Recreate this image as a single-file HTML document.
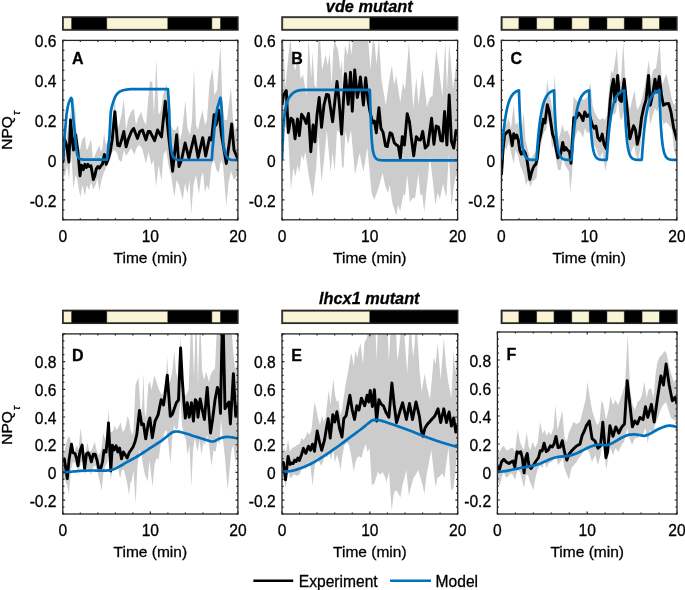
<!DOCTYPE html>
<html><head><meta charset="utf-8"><style>
html,body{margin:0;padding:0;background:#fff;}
svg{display:block;will-change:transform;}
text{font-family:"Liberation Sans", sans-serif;fill:#000;stroke:#000;stroke-width:0.3px;}
.tk{font-size:15.6px;fill:#000;}
.lb{font-size:15.5px;}
.sub{font-size:11.5px;font-style:italic;}
.pl{font-size:16px;font-weight:bold;}
.ti{font-size:16.3px;font-weight:bold;font-style:italic;}
.lg{font-size:15.6px;}
</style></head><body>
<svg width="685" height="590" viewBox="0 0 685 590">
<rect x="62.8" y="17" width="175.1" height="13" fill="#000" stroke="#262626" stroke-width="1.5"/>
<rect x="63.7" y="17.9" width="7.76" height="11.2" fill="#faf4d6" stroke="#4a4a40" stroke-width="0.5"/>
<rect x="106.88" y="17.9" width="60.89" height="11.2" fill="#faf4d6" stroke="#4a4a40" stroke-width="0.5"/>
<rect x="211.94" y="17.9" width="8.35" height="11.2" fill="#faf4d6" stroke="#4a4a40" stroke-width="0.5"/>
<clipPath id="cA"><rect x="62.8" y="40.4" width="175.1" height="179.4"/></clipPath>
<g clip-path="url(#cA)">
<polygon fill="#cccccc" stroke="none" points="62.8,140 64.5,128 66,140 68,130 70.5,112 73,125 75,101.8 76.5,135 78,145 80,150 82,140 84.9,136.2 86.5,150 88,148 91,139.2 93,160 95,155 97,150 99.4,145.3 101,152 102.5,148 104,133.1 106,145 108,140 110,135 112,120 114.9,100 117,130 119,125 121.5,115 123.8,98.7 126,130 128.5,118 131,112 133.7,108.6 136,125 138,118 141.3,111.7 143.5,120 146,125 148.2,99.5 150,81.2 152.3,82 154,115 156.4,59.1 158.5,115 161,110 163,95 166.8,84.3 169,115 171,125 173,130 175.5,130 178,125 180,140 182,132 185.4,100.3 187.5,128 190,135 192,120 194,69 196,125 198,130 200,120 202.5,110 205,125 207,120 209.5,82.7 212.6,69 214.5,95 217,90 220.5,45.3 222.5,105 224.5,120 227,120 230.9,87.3 233,120 235,130 237.9,125 237.9,175 234,180 231,171 228.5,183 226.3,206.3 223,165 221,160 218.7,172.7 216.5,170 214,160 211.5,165 209,190 207,185 205,192.6 203,172 201,178 198.9,194.1 196,175 193.5,185 191.2,214 189.5,180 187.4,194.1 185,183 182.8,200.2 179,185 176.5,180 174.4,197.2 171,175 168.5,165 166,150 163.5,155 161.5,180.4 158.5,165 156.1,186.5 153.5,160 151.5,165.1 148.5,152 145.9,163.6 142,148 139,145 136.5,148 134.4,154.4 131,148 128.5,152 126,156 124,150 121.5,162 119,160 117,152.9 114.5,150 112,152 110,160 108,162 106.2,168 104,172 101.5,180 99.4,191 97.5,178 95.5,185 93.3,189.5 91,182 89,190 87,185 84.9,195.6 82.5,185 80.3,197.1 77,178 75.5,175 73.4,189.5 71,150 69,180 67,165 65,175.8 62.8,175"/>
<polyline fill="none" stroke="#000" stroke-width="2.9" stroke-linejoin="round" points="62.8,163 64.3,138.4 66.6,145.3 68.9,162 70.5,120 72.5,142 73.5,150 75.7,134.6 78,152.9 80,175.8 81.5,165.1 83.4,169.7 84.9,164.3 86.4,167.4 87.9,164.3 89.5,166.6 91,165.8 93.3,179.6 94.8,175.8 96.3,168.9 97.8,166.6 99.4,168.1 100.9,165.8 102.4,164.3 104.4,154.4 106.2,164.3 107.75,160.5 110,152.9 112.3,139.2 114.9,111.7 117.7,145.3 119.6,146 121.8,139.2 123.8,131.5 126.1,146.8 128.3,139.2 131.4,131.5 133.7,128.5 137.5,138.4 139.8,131.5 142.5,130 145.9,139.9 148.2,131.5 150,131.5 154.6,140.7 157.6,130 161.5,136.9 165.3,101.1 168.5,135 172.6,171.2 176.7,134.6 179,166.6 181.5,160 185.1,143 188.9,158.2 194.3,136.1 198.1,157.5 202.7,137.6 205.7,156 209.5,137.6 211.5,140 214.1,114.8 216,125 218.7,110.2 221.5,135 224,150 226.3,163.6 229,145 231.7,124 234,150 237.9,159"/>
<polyline fill="none" stroke="#0072bd" stroke-width="2.7" stroke-linejoin="round" points="62.8,160 64.3,141 65.5,126 66.6,114 67.8,106.5 68.9,102.5 70,100 71.15,97.95 72,99.5 72.7,110 73.5,121 74.7,130.8 75.5,140 76.3,149 77.3,154.6 78.5,157.8 80.3,159.2 83,159.6 90,159.7 107,159.7 107.75,152.9 108.5,146 109.3,139.2 110,126 110.8,111.7 112,106 113.1,102.5 114.3,99 115.4,96.4 116.8,94.3 118.4,92.6 120.5,91.2 123,90.3 126.5,89.6 130.6,89.2 140,89.2 168,89.2 168.6,100 169.1,108.7 169.5,120 169.9,132 170.6,145.3 171.3,150.5 172.1,154.4 173.2,156.8 174.4,158.2 176,159.2 177.5,159.8 190,160 211.8,160 212.6,148.3 213.2,142 213.8,136.1 214.5,128 215.5,120 216.4,113 217.2,108.7 218.5,104 219.6,100 220.5,97.7 221.2,103 221.7,110 222.2,120 222.8,130 223.3,143.7 224.3,150 225.6,154.4 227,157.2 228.6,159 231,159.8 237.9,160.2"/>
</g>
<rect x="62.8" y="40.4" width="175.1" height="179.4" fill="none" stroke="#262626" stroke-width="1.3"/>
<path d="M62.8,219.8v-2.4M62.8,40.4v2.4M80.31,219.8v-1.6M80.31,40.4v1.6M97.82,219.8v-1.6M97.82,40.4v1.6M115.33,219.8v-1.6M115.33,40.4v1.6M132.84,219.8v-1.6M132.84,40.4v1.6M150.35,219.8v-2.4M150.35,40.4v2.4M167.86,219.8v-1.6M167.86,40.4v1.6M185.37,219.8v-1.6M185.37,40.4v1.6M202.88,219.8v-1.6M202.88,40.4v1.6M220.39,219.8v-1.6M220.39,40.4v1.6M237.9,219.8v-2.4M237.9,40.4v2.4M62.8,219.8h1.6M237.9,219.8h-1.6M62.8,209.83h1.6M237.9,209.83h-1.6M62.8,199.87h2.4M237.9,199.87h-2.4M62.8,189.9h1.6M237.9,189.9h-1.6M62.8,179.93h1.6M237.9,179.93h-1.6M62.8,169.97h1.6M237.9,169.97h-1.6M62.8,160h2.4M237.9,160h-2.4M62.8,150.03h1.6M237.9,150.03h-1.6M62.8,140.07h1.6M237.9,140.07h-1.6M62.8,130.1h1.6M237.9,130.1h-1.6M62.8,120.13h2.4M237.9,120.13h-2.4M62.8,110.17h1.6M237.9,110.17h-1.6M62.8,100.2h1.6M237.9,100.2h-1.6M62.8,90.23h1.6M237.9,90.23h-1.6M62.8,80.27h2.4M237.9,80.27h-2.4M62.8,70.3h1.6M237.9,70.3h-1.6M62.8,60.33h1.6M237.9,60.33h-1.6M62.8,50.37h1.6M237.9,50.37h-1.6M62.8,40.4h2.4M237.9,40.4h-2.4" stroke="#262626" stroke-width="1.2" fill="none"/>
<text x="56.5" y="206.57" text-anchor="end" class="tk">-0.2</text>
<text x="56.5" y="166.7" text-anchor="end" class="tk">0</text>
<text x="56.5" y="126.83" text-anchor="end" class="tk">0.2</text>
<text x="56.5" y="86.97" text-anchor="end" class="tk">0.4</text>
<text x="56.5" y="47.1" text-anchor="end" class="tk">0.6</text>
<text x="62.8" y="241.7" text-anchor="middle" class="tk">0</text>
<text x="150.35" y="241.7" text-anchor="middle" class="tk">10</text>
<text x="237.9" y="241.7" text-anchor="middle" class="tk">20</text>
<text x="150.35" y="262.6" text-anchor="middle" class="lb">Time (min)</text>
<text x="72" y="63.8" class="pl">A</text>
<rect x="282" y="17" width="175.6" height="13" fill="#000" stroke="#262626" stroke-width="1.5"/>
<rect x="282.9" y="17.9" width="86.8" height="11.2" fill="#faf4d6" stroke="#4a4a40" stroke-width="0.5"/>
<clipPath id="cB"><rect x="282" y="40.4" width="175.6" height="179.4"/></clipPath>
<g clip-path="url(#cB)">
<polygon fill="#cccccc" stroke="none" points="282,45 283.3,38 284.2,60 285.2,87.4 287.5,65 289.5,45 290.4,38 291.5,50 293,62 295.2,70.8 297,62 298.5,54.2 300.6,79.1 303,74.4 306.5,95.8 308.5,38 311.2,78 312.5,52 314.5,85 316.5,88 318.5,38 320,38 322.1,70.5 325.7,54.2 327.7,65.4 329.7,53.2 331.6,84.8 333.3,50 334.8,38 336,45 338,50 340.4,70.5 342,60 343,95 344,60 345,45 347.6,55.3 349.5,38 351.4,55.3 353,38 368,38 370.5,69.7 373,38 374.8,46.1 376.6,64.4 378.9,38 381.5,80 385.8,105.6 388.5,85 391.9,65.2 394,85 396.2,75.9 400.3,102.6 402.9,82.7 405,90 409,42.3 413.3,108.7 416.3,77.4 418.5,105 422.4,69 427,107.2 430.1,97.3 432.5,96 436.2,49.2 438.5,65 442.3,96.5 445.3,42.3 447,90 449.2,43 453,88.9 455.5,70 457.6,50 457.6,180 456,175 454,185 451.5,207.1 448.9,154 446.3,198 443,183.8 439.8,199.4 437.8,193 435.2,204.5 432.5,178 430,156.5 427,185 424.2,212.3 422.2,194.2 420.3,195 418.4,173.4 415.1,198 412.5,198 409.9,202.6 407.3,174.7 405,196 403.4,194.2 400.2,211 398,205 396.3,215.6 392.4,203.2 389.8,185 387.8,192.9 385,185 382.6,172.7 378,190 374.2,200 371.6,192.9 369,165 367.3,147.6 363.4,172 359.6,152.9 355,174.3 351,130 348,145 345.5,130 343.6,167.4 342.1,167.4 340,133 337,130 334.7,171.2 332.5,152 330.6,172.7 326.8,130 324,160 321.5,181.9 318.4,134.6 316.1,168.2 312.8,197.2 308.5,174.3 305.4,151.4 303.5,160 301.6,154.4 299.3,172.7 297.5,165 295.5,176.6 293.2,168.2 290.9,189.5 287.9,130 286,128 284,125 282,150"/>
<polyline fill="none" stroke="#000" stroke-width="2.9" stroke-linejoin="round" points="282,105 283.5,95 286.3,90.6 288.3,132.6 290.9,118.1 293,120 295,138.7 297.5,118.9 299.3,135.6 301.6,114.3 304,118 306.2,123.4 308.5,113.5 310.8,151.7 313.1,125 314.9,141.8 317,115 319.2,97.5 321.5,127.3 324,105 326.5,94.4 328.5,95 330.5,108 332.6,121.9 335,100 337,81.5 339,100 341.6,134.1 343.5,100 345.4,73.8 348.2,104.4 350.5,72.3 352.3,111.2 354.7,70 357.3,97.5 358.8,90 360.4,76.9 363.4,105.1 365.7,77.6 368,100 370,112 372.8,122.9 374.5,121 376.3,132.8 378.9,107.6 380.9,128.2 383,132.1 385.5,145.8 387.3,146.6 390.1,132.8 392,134 394.2,142.7 396.5,145 398.3,146 400.3,158 402.3,136.6 404.4,145 407.2,113.7 409.5,122 411,135 413.7,155.7 416.3,136.6 418.6,139.7 420.5,140 422.7,131.3 425.2,148.1 428,145 431.6,118.3 433.9,144.3 436.2,126 438.5,127 440.8,140.5 442.5,141 444.6,111.5 446.9,145 449.2,95 451.4,141.2 453.7,148.1 456,130.5 457.6,135"/>
<polyline fill="none" stroke="#0072bd" stroke-width="2.7" stroke-linejoin="round" points="282,160 282.6,145 283.3,128 284,119 284.8,112.7 286,106.5 287.1,102 288.5,98.5 290.2,96 291.7,94.3 293.2,92.9 295.5,91.5 297.8,90.6 300.5,90.1 303.9,89.8 369.8,89.8 370.3,105 370.8,120 371.3,133 372,143 372.8,150.4 373.8,154.5 375.1,157.3 376.5,158.8 378.2,159.8 381,160.2 384.3,160.3 457.6,160.3"/>
</g>
<rect x="282" y="40.4" width="175.6" height="179.4" fill="none" stroke="#262626" stroke-width="1.3"/>
<path d="M282,219.8v-2.4M282,40.4v2.4M299.56,219.8v-1.6M299.56,40.4v1.6M317.12,219.8v-1.6M317.12,40.4v1.6M334.68,219.8v-1.6M334.68,40.4v1.6M352.24,219.8v-1.6M352.24,40.4v1.6M369.8,219.8v-2.4M369.8,40.4v2.4M387.36,219.8v-1.6M387.36,40.4v1.6M404.92,219.8v-1.6M404.92,40.4v1.6M422.48,219.8v-1.6M422.48,40.4v1.6M440.04,219.8v-1.6M440.04,40.4v1.6M457.6,219.8v-2.4M457.6,40.4v2.4M282,219.8h1.6M457.6,219.8h-1.6M282,209.83h1.6M457.6,209.83h-1.6M282,199.87h2.4M457.6,199.87h-2.4M282,189.9h1.6M457.6,189.9h-1.6M282,179.93h1.6M457.6,179.93h-1.6M282,169.97h1.6M457.6,169.97h-1.6M282,160h2.4M457.6,160h-2.4M282,150.03h1.6M457.6,150.03h-1.6M282,140.07h1.6M457.6,140.07h-1.6M282,130.1h1.6M457.6,130.1h-1.6M282,120.13h2.4M457.6,120.13h-2.4M282,110.17h1.6M457.6,110.17h-1.6M282,100.2h1.6M457.6,100.2h-1.6M282,90.23h1.6M457.6,90.23h-1.6M282,80.27h2.4M457.6,80.27h-2.4M282,70.3h1.6M457.6,70.3h-1.6M282,60.33h1.6M457.6,60.33h-1.6M282,50.37h1.6M457.6,50.37h-1.6M282,40.4h2.4M457.6,40.4h-2.4" stroke="#262626" stroke-width="1.2" fill="none"/>
<text x="275.7" y="206.57" text-anchor="end" class="tk">-0.2</text>
<text x="275.7" y="166.7" text-anchor="end" class="tk">0</text>
<text x="275.7" y="126.83" text-anchor="end" class="tk">0.2</text>
<text x="275.7" y="86.97" text-anchor="end" class="tk">0.4</text>
<text x="275.7" y="47.1" text-anchor="end" class="tk">0.6</text>
<text x="282" y="241.7" text-anchor="middle" class="tk">0</text>
<text x="369.8" y="241.7" text-anchor="middle" class="tk">10</text>
<text x="457.6" y="241.7" text-anchor="middle" class="tk">20</text>
<text x="369.8" y="262.6" text-anchor="middle" class="lb">Time (min)</text>
<text x="291.2" y="63.8" class="pl">B</text>
<rect x="501.4" y="17" width="175.5" height="13" fill="#000" stroke="#262626" stroke-width="1.5"/>
<rect x="502.3" y="17.9" width="16.55" height="11.2" fill="#faf4d6" stroke="#4a4a40" stroke-width="0.5"/>
<rect x="536.8" y="17.9" width="17.15" height="11.2" fill="#faf4d6" stroke="#4a4a40" stroke-width="0.5"/>
<rect x="571.9" y="17.9" width="17.15" height="11.2" fill="#faf4d6" stroke="#4a4a40" stroke-width="0.5"/>
<rect x="607" y="17.9" width="17.15" height="11.2" fill="#faf4d6" stroke="#4a4a40" stroke-width="0.5"/>
<rect x="642.1" y="17.9" width="17.15" height="11.2" fill="#faf4d6" stroke="#4a4a40" stroke-width="0.5"/>
<clipPath id="cC"><rect x="501.4" y="40.4" width="175.5" height="179.4"/></clipPath>
<g clip-path="url(#cC)">
<polygon fill="#cccccc" stroke="none" points="501.4,150 503,130 504.6,118.3 506.5,125 508.5,118 511,128 513.7,104.6 515.5,125 518,122 521,135 523.7,112.2 525.5,140 528,150 530.5,160 533,155 535.5,152 537.5,138 539.5,124 541.5,118 543.5,105 545.8,95 547.3,79.7 549.2,95 551,100 552.5,112 554.9,73.6 556.5,120 558,140 560,135 562.4,124.5 564.5,132 567,130 569.5,135 571,140 573.6,96.6 576,100 578,102 581,98 584,100 587,97 590.4,82.6 592.5,105 594.5,112 597.8,118 600,120 602.5,118 605,120 607,115 609,90 611,70 613,73.6 615,62 616.8,47.5 619,85 621,80 623.3,41.9 626,95 628,100 630,110 632,100 634.5,90.3 637,110 640,105 642,98 645,85 648.8,60.5 651,80 653,70 656,68 659.7,41.9 662,85 664,80 666.2,73.6 669,85 672,100 674,105 676.9,100 676.9,160 674,150 672,130 669,125 666,122 663.5,125 661.5,118 659.3,105 657,112 655,108 652,118 650,125 648.5,105 646,118 644,125 642,130 640,150 638,160 636,155 634,145 632,150 630,155 628,135 626,118 624,110 622,120 620,118 618,100 616,112 614,115 612,110 610,130 607.5,160 605.3,171.2 602.5,152 600,158 598,155 596,148 594,145 592,140 589.5,132 587,133 585,128 583,138 581,133 578,130 576,135 574,140 572,175 570.2,192.6 569,172 567,168 565,165 563,158 560.5,170 558,170 556,160 554,145 552,148 550,128 548,120 546,130 544,132 542,140 540,150 538,165 536.5,178 534.5,180 532.5,181 530.5,187 528,180 526,185.5 524,175 522,170 520,165 518,155 515.5,150 513.7,164.1 511,152 508.5,142 506.5,150 504.6,145.8 503,175 501.4,195"/>
<polyline fill="none" stroke="#000" stroke-width="2.9" stroke-linejoin="round" points="501.4,175 503,150 504.6,135.1 506.9,132.1 509.2,130.5 510.8,137 512.2,145.8 513.7,133.6 515.3,138 516.8,135.1 518.3,140 519.8,150.4 521.4,154.2 523.7,150.4 525.2,153 526.7,158 528.2,168 529.8,179.4 531.3,173.3 532.8,168.7 534.4,165.6 535.9,164.1 537.4,158 538.9,142.7 541.2,132.1 543.5,119.1 545,122.9 547.3,104.6 549.2,111.5 550.8,122 552.5,134 554.5,140 556.3,150 558,157.9 560.6,154.3 562.7,142.4 564.4,150.4 565.8,147.5 567.5,150 569.5,151.8 571,163.2 573.8,117.6 576.3,118 578.7,113 581.1,116.1 583,120.6 584.8,111.9 587,116.5 589.3,114.3 592.2,124.5 594.1,128.2 596,126 597.8,137.5 600,140.7 602.2,134.1 604.1,144.4 606.2,148.7 608.3,125 610.3,99.7 611.8,87.2 613.4,79.2 614.9,101.5 617.7,75.4 619.6,99.7 621.4,101.5 624.2,79.2 626.2,100 628,118.3 629.8,138.8 631.7,132 633.6,125.8 635.5,130 637.3,144.4 639.5,135 641.5,118 643.8,107.1 646,100 648.5,75.4 650.3,105.2 652.5,95 655,79.2 657,92 659.3,76.4 661.5,95 663.4,105.2 665.5,104 668.6,103.4 671,112 673.6,127.6 676.9,140"/>
<polyline fill="none" stroke="#0072bd" stroke-width="2.7" stroke-linejoin="round" points="501.4,160 501.49,158.59 501.58,157.22 501.66,155.87 501.75,154.54 501.84,153.25 501.93,151.98 502.01,150.73 502.1,149.51 502.19,148.31 502.28,147.14 502.37,145.99 502.45,144.86 502.54,143.75 502.63,142.67 502.72,141.61 502.8,140.57 502.89,139.55 502.98,138.55 503.07,137.57 503.15,136.61 503.24,135.66 503.33,134.74 503.42,133.83 503.51,132.95 503.59,132.08 503.68,131.23 503.77,130.39 503.86,129.57 503.94,128.77 504.03,127.98 504.12,127.21 504.21,126.46 504.3,125.71 504.38,124.99 504.47,124.28 504.56,123.58 504.65,122.89 504.73,122.22 504.82,121.57 504.91,120.92 505,120.29 505.09,119.67 505.26,118.47 505.44,117.32 505.61,116.21 505.79,115.14 505.96,114.12 506.14,113.14 506.31,112.19 506.49,111.28 506.66,110.41 506.84,109.57 507.02,108.77 507.19,107.99 507.37,107.25 507.54,106.54 507.72,105.85 507.89,105.19 508.07,104.56 508.24,103.95 508.42,103.36 508.6,102.8 508.77,102.26 509.03,101.49 509.3,100.77 509.56,100.08 509.82,99.44 510.09,98.84 510.35,98.26 510.61,97.73 510.88,97.22 511.14,96.74 511.4,96.3 511.75,95.74 512.11,95.22 512.46,94.75 512.81,94.31 513.16,93.9 513.51,93.53 513.95,93.1 514.39,92.71 514.83,92.36 515.26,92.05 515.7,91.76 516.23,91.45 516.76,91.18 517.28,90.94 517.81,90.72 518.34,90.53 518.95,90.34 519.04,93.12 519.13,95.8 519.21,98.37 519.3,100.83 519.39,103.2 519.48,105.47 519.56,107.65 519.65,109.74 519.74,111.75 519.83,113.68 519.92,115.54 520,117.31 520.09,119.02 520.18,120.66 520.27,122.23 520.35,123.74 520.44,125.19 520.53,126.59 520.62,127.92 520.7,129.21 520.79,130.44 520.88,131.62 520.97,132.75 521.06,133.84 521.14,134.89 521.23,135.89 521.32,136.86 521.41,137.78 521.49,138.67 521.58,139.53 521.67,140.34 521.76,141.13 521.85,141.89 521.93,142.61 522.02,143.31 522.11,143.97 522.2,144.61 522.28,145.23 522.46,146.39 522.64,147.45 522.81,148.44 522.99,149.34 523.16,150.18 523.34,150.95 523.51,151.66 523.69,152.31 523.86,152.92 524.04,153.47 524.3,154.22 524.57,154.89 524.83,155.48 525.09,156 525.36,156.46 525.71,156.99 526.06,157.45 526.41,157.83 526.85,158.23 527.29,158.56 527.73,158.82 528.25,159.08 528.78,159.28 529.39,159.46 530.01,159.59 530.62,159.69 531.32,159.78 532.02,159.84 532.73,159.89 533.43,159.92 534.13,159.94 534.83,159.96 535.53,159.97 536.24,159.98 536.59,158.59 536.68,157.22 536.76,155.87 536.85,154.54 536.94,153.25 537.03,151.98 537.11,150.73 537.2,149.51 537.29,148.31 537.38,147.14 537.47,145.99 537.55,144.86 537.64,143.75 537.73,142.67 537.82,141.61 537.9,140.57 537.99,139.55 538.08,138.55 538.17,137.57 538.25,136.61 538.34,135.66 538.43,134.74 538.52,133.83 538.61,132.95 538.69,132.08 538.78,131.23 538.87,130.39 538.96,129.57 539.04,128.77 539.13,127.98 539.22,127.21 539.31,126.46 539.4,125.71 539.48,124.99 539.57,124.28 539.66,123.58 539.75,122.89 539.83,122.22 539.92,121.57 540.01,120.92 540.1,120.29 540.19,119.67 540.36,118.47 540.54,117.32 540.71,116.21 540.89,115.14 541.06,114.12 541.24,113.14 541.41,112.19 541.59,111.28 541.76,110.41 541.94,109.57 542.12,108.77 542.29,107.99 542.47,107.25 542.64,106.54 542.82,105.85 542.99,105.19 543.17,104.56 543.34,103.95 543.52,103.36 543.7,102.8 543.87,102.26 544.13,101.49 544.4,100.77 544.66,100.08 544.92,99.44 545.19,98.84 545.45,98.26 545.71,97.73 545.98,97.22 546.24,96.74 546.5,96.3 546.85,95.74 547.21,95.22 547.56,94.75 547.91,94.31 548.26,93.9 548.61,93.53 549.05,93.1 549.49,92.71 549.93,92.36 550.36,92.05 550.8,91.76 551.33,91.45 551.86,91.18 552.38,90.94 552.91,90.72 553.44,90.53 554.05,90.34 554.14,93.12 554.23,95.8 554.31,98.37 554.4,100.83 554.49,103.2 554.58,105.47 554.66,107.65 554.75,109.74 554.84,111.75 554.93,113.68 555.02,115.54 555.1,117.31 555.19,119.02 555.28,120.66 555.37,122.23 555.45,123.74 555.54,125.19 555.63,126.59 555.72,127.92 555.8,129.21 555.89,130.44 555.98,131.62 556.07,132.75 556.16,133.84 556.24,134.89 556.33,135.89 556.42,136.86 556.51,137.78 556.59,138.67 556.68,139.53 556.77,140.34 556.86,141.13 556.95,141.89 557.03,142.61 557.12,143.31 557.21,143.97 557.3,144.61 557.38,145.23 557.56,146.39 557.74,147.45 557.91,148.44 558.09,149.34 558.26,150.18 558.44,150.95 558.61,151.66 558.79,152.31 558.96,152.92 559.14,153.47 559.4,154.22 559.67,154.89 559.93,155.48 560.19,156 560.46,156.46 560.81,156.99 561.16,157.45 561.51,157.83 561.95,158.23 562.39,158.56 562.82,158.82 563.35,159.08 563.88,159.28 564.49,159.46 565.11,159.59 565.72,159.69 566.42,159.78 567.12,159.84 567.83,159.89 568.53,159.92 569.23,159.94 569.93,159.96 570.63,159.97 571.34,159.98 571.69,158.59 571.78,157.22 571.86,155.87 571.95,154.54 572.04,153.25 572.13,151.98 572.21,150.73 572.3,149.51 572.39,148.31 572.48,147.14 572.57,145.99 572.65,144.86 572.74,143.75 572.83,142.67 572.92,141.61 573,140.57 573.09,139.55 573.18,138.55 573.27,137.57 573.36,136.61 573.44,135.66 573.53,134.74 573.62,133.83 573.71,132.95 573.79,132.08 573.88,131.23 573.97,130.39 574.06,129.57 574.14,128.77 574.23,127.98 574.32,127.21 574.41,126.46 574.5,125.71 574.58,124.99 574.67,124.28 574.76,123.58 574.85,122.89 574.93,122.22 575.02,121.57 575.11,120.92 575.2,120.29 575.29,119.67 575.46,118.47 575.64,117.32 575.81,116.21 575.99,115.14 576.16,114.12 576.34,113.14 576.51,112.19 576.69,111.28 576.87,110.41 577.04,109.57 577.22,108.77 577.39,107.99 577.57,107.25 577.74,106.54 577.92,105.85 578.09,105.19 578.27,104.56 578.44,103.95 578.62,103.36 578.8,102.8 578.97,102.26 579.23,101.49 579.5,100.77 579.76,100.08 580.02,99.44 580.29,98.84 580.55,98.26 580.81,97.73 581.08,97.22 581.34,96.74 581.6,96.3 581.95,95.74 582.31,95.22 582.66,94.75 583.01,94.31 583.36,93.9 583.71,93.53 584.15,93.1 584.59,92.71 585.03,92.36 585.46,92.05 585.9,91.76 586.43,91.45 586.96,91.18 587.48,90.94 588.01,90.72 588.54,90.53 589.15,90.34 589.24,93.12 589.33,95.8 589.41,98.37 589.5,100.83 589.59,103.2 589.68,105.47 589.76,107.65 589.85,109.74 589.94,111.75 590.03,113.68 590.12,115.54 590.2,117.31 590.29,119.02 590.38,120.66 590.47,122.23 590.55,123.74 590.64,125.19 590.73,126.59 590.82,127.92 590.9,129.21 590.99,130.44 591.08,131.62 591.17,132.75 591.26,133.84 591.34,134.89 591.43,135.89 591.52,136.86 591.61,137.78 591.69,138.67 591.78,139.53 591.87,140.34 591.96,141.13 592.05,141.89 592.13,142.61 592.22,143.31 592.31,143.97 592.4,144.61 592.48,145.23 592.66,146.39 592.84,147.45 593.01,148.44 593.19,149.34 593.36,150.18 593.54,150.95 593.71,151.66 593.89,152.31 594.06,152.92 594.24,153.47 594.5,154.22 594.77,154.89 595.03,155.48 595.29,156 595.56,156.46 595.91,156.99 596.26,157.45 596.61,157.83 597.05,158.23 597.49,158.56 597.92,158.82 598.45,159.08 598.98,159.28 599.59,159.46 600.21,159.59 600.82,159.69 601.52,159.78 602.22,159.84 602.93,159.89 603.63,159.92 604.33,159.94 605.03,159.96 605.73,159.97 606.44,159.98 606.79,158.59 606.88,157.22 606.96,155.87 607.05,154.54 607.14,153.25 607.23,151.98 607.31,150.73 607.4,149.51 607.49,148.31 607.58,147.14 607.67,145.99 607.75,144.86 607.84,143.75 607.93,142.67 608.02,141.61 608.1,140.57 608.19,139.55 608.28,138.55 608.37,137.57 608.45,136.61 608.54,135.66 608.63,134.74 608.72,133.83 608.81,132.95 608.89,132.08 608.98,131.23 609.07,130.39 609.16,129.57 609.24,128.77 609.33,127.98 609.42,127.21 609.51,126.46 609.6,125.71 609.68,124.99 609.77,124.28 609.86,123.58 609.95,122.89 610.03,122.22 610.12,121.57 610.21,120.92 610.3,120.29 610.39,119.67 610.56,118.47 610.74,117.32 610.91,116.21 611.09,115.14 611.26,114.12 611.44,113.14 611.61,112.19 611.79,111.28 611.96,110.41 612.14,109.57 612.32,108.77 612.49,107.99 612.67,107.25 612.84,106.54 613.02,105.85 613.19,105.19 613.37,104.56 613.54,103.95 613.72,103.36 613.9,102.8 614.07,102.26 614.33,101.49 614.6,100.77 614.86,100.08 615.12,99.44 615.39,98.84 615.65,98.26 615.91,97.73 616.18,97.22 616.44,96.74 616.7,96.3 617.05,95.74 617.41,95.22 617.76,94.75 618.11,94.31 618.46,93.9 618.81,93.53 619.25,93.1 619.69,92.71 620.13,92.36 620.56,92.05 621,91.76 621.53,91.45 622.06,91.18 622.58,90.94 623.11,90.72 623.64,90.53 624.25,90.34 624.34,93.12 624.43,95.8 624.51,98.37 624.6,100.83 624.69,103.2 624.78,105.47 624.86,107.65 624.95,109.74 625.04,111.75 625.13,113.68 625.22,115.54 625.3,117.31 625.39,119.02 625.48,120.66 625.57,122.23 625.65,123.74 625.74,125.19 625.83,126.59 625.92,127.92 626,129.21 626.09,130.44 626.18,131.62 626.27,132.75 626.36,133.84 626.44,134.89 626.53,135.89 626.62,136.86 626.71,137.78 626.79,138.67 626.88,139.53 626.97,140.34 627.06,141.13 627.15,141.89 627.23,142.61 627.32,143.31 627.41,143.97 627.5,144.61 627.58,145.23 627.76,146.39 627.94,147.45 628.11,148.44 628.29,149.34 628.46,150.18 628.64,150.95 628.81,151.66 628.99,152.31 629.16,152.92 629.34,153.47 629.6,154.22 629.87,154.89 630.13,155.48 630.39,156 630.66,156.46 631.01,156.99 631.36,157.45 631.71,157.83 632.15,158.23 632.59,158.56 633.02,158.82 633.55,159.08 634.08,159.28 634.69,159.46 635.31,159.59 635.92,159.69 636.62,159.78 637.32,159.84 638.03,159.89 638.73,159.92 639.43,159.94 640.13,159.96 640.83,159.97 641.54,159.98 641.89,158.59 641.98,157.22 642.06,155.87 642.15,154.54 642.24,153.25 642.33,151.98 642.41,150.73 642.5,149.51 642.59,148.31 642.68,147.14 642.77,145.99 642.85,144.86 642.94,143.75 643.03,142.67 643.12,141.61 643.2,140.57 643.29,139.55 643.38,138.55 643.47,137.57 643.55,136.61 643.64,135.66 643.73,134.74 643.82,133.83 643.91,132.95 643.99,132.08 644.08,131.23 644.17,130.39 644.26,129.57 644.34,128.77 644.43,127.98 644.52,127.21 644.61,126.46 644.7,125.71 644.78,124.99 644.87,124.28 644.96,123.58 645.05,122.89 645.13,122.22 645.22,121.57 645.31,120.92 645.4,120.29 645.49,119.67 645.66,118.47 645.84,117.32 646.01,116.21 646.19,115.14 646.36,114.12 646.54,113.14 646.71,112.19 646.89,111.28 647.07,110.41 647.24,109.57 647.42,108.77 647.59,107.99 647.77,107.25 647.94,106.54 648.12,105.85 648.29,105.19 648.47,104.56 648.64,103.95 648.82,103.36 649,102.8 649.17,102.26 649.43,101.49 649.7,100.77 649.96,100.08 650.22,99.44 650.49,98.84 650.75,98.26 651.01,97.73 651.28,97.22 651.54,96.74 651.8,96.3 652.15,95.74 652.51,95.22 652.86,94.75 653.21,94.31 653.56,93.9 653.91,93.53 654.35,93.1 654.79,92.71 655.23,92.36 655.66,92.05 656.1,91.76 656.63,91.45 657.16,91.18 657.68,90.94 658.21,90.72 658.74,90.53 659.35,90.34 659.44,93.12 659.53,95.8 659.61,98.37 659.7,100.83 659.79,103.2 659.88,105.47 659.96,107.65 660.05,109.74 660.14,111.75 660.23,113.68 660.32,115.54 660.4,117.31 660.49,119.02 660.58,120.66 660.67,122.23 660.75,123.74 660.84,125.19 660.93,126.59 661.02,127.92 661.11,129.21 661.19,130.44 661.28,131.62 661.37,132.75 661.46,133.84 661.54,134.89 661.63,135.89 661.72,136.86 661.81,137.78 661.89,138.67 661.98,139.53 662.07,140.34 662.16,141.13 662.25,141.89 662.33,142.61 662.42,143.31 662.51,143.97 662.6,144.61 662.68,145.23 662.86,146.39 663.04,147.45 663.21,148.44 663.39,149.34 663.56,150.18 663.74,150.95 663.91,151.66 664.09,152.31 664.26,152.92 664.44,153.47 664.7,154.22 664.97,154.89 665.23,155.48 665.49,156 665.76,156.46 666.11,156.99 666.46,157.45 666.81,157.83 667.25,158.23 667.69,158.56 668.12,158.82 668.65,159.08 669.18,159.28 669.79,159.46 670.41,159.59 671.02,159.69 671.72,159.78 672.42,159.84 673.13,159.89 673.83,159.92 674.53,159.94 675.23,159.96 675.93,159.97 676.64,159.98 676.9,160"/>
</g>
<rect x="501.4" y="40.4" width="175.5" height="179.4" fill="none" stroke="#262626" stroke-width="1.3"/>
<path d="M501.4,219.8v-2.4M501.4,40.4v2.4M518.95,219.8v-1.6M518.95,40.4v1.6M536.5,219.8v-1.6M536.5,40.4v1.6M554.05,219.8v-1.6M554.05,40.4v1.6M571.6,219.8v-1.6M571.6,40.4v1.6M589.15,219.8v-2.4M589.15,40.4v2.4M606.7,219.8v-1.6M606.7,40.4v1.6M624.25,219.8v-1.6M624.25,40.4v1.6M641.8,219.8v-1.6M641.8,40.4v1.6M659.35,219.8v-1.6M659.35,40.4v1.6M676.9,219.8v-2.4M676.9,40.4v2.4M501.4,219.8h1.6M676.9,219.8h-1.6M501.4,209.83h1.6M676.9,209.83h-1.6M501.4,199.87h2.4M676.9,199.87h-2.4M501.4,189.9h1.6M676.9,189.9h-1.6M501.4,179.93h1.6M676.9,179.93h-1.6M501.4,169.97h1.6M676.9,169.97h-1.6M501.4,160h2.4M676.9,160h-2.4M501.4,150.03h1.6M676.9,150.03h-1.6M501.4,140.07h1.6M676.9,140.07h-1.6M501.4,130.1h1.6M676.9,130.1h-1.6M501.4,120.13h2.4M676.9,120.13h-2.4M501.4,110.17h1.6M676.9,110.17h-1.6M501.4,100.2h1.6M676.9,100.2h-1.6M501.4,90.23h1.6M676.9,90.23h-1.6M501.4,80.27h2.4M676.9,80.27h-2.4M501.4,70.3h1.6M676.9,70.3h-1.6M501.4,60.33h1.6M676.9,60.33h-1.6M501.4,50.37h1.6M676.9,50.37h-1.6M501.4,40.4h2.4M676.9,40.4h-2.4" stroke="#262626" stroke-width="1.2" fill="none"/>
<text x="495.1" y="206.57" text-anchor="end" class="tk">-0.2</text>
<text x="495.1" y="166.7" text-anchor="end" class="tk">0</text>
<text x="495.1" y="126.83" text-anchor="end" class="tk">0.2</text>
<text x="495.1" y="86.97" text-anchor="end" class="tk">0.4</text>
<text x="495.1" y="47.1" text-anchor="end" class="tk">0.6</text>
<text x="501.4" y="241.7" text-anchor="middle" class="tk">0</text>
<text x="589.15" y="241.7" text-anchor="middle" class="tk">10</text>
<text x="676.9" y="241.7" text-anchor="middle" class="tk">20</text>
<text x="589.15" y="262.6" text-anchor="middle" class="lb">Time (min)</text>
<text x="510.6" y="63.8" class="pl">C</text>
<rect x="62.8" y="310.4" width="175.1" height="12.9" fill="#000" stroke="#262626" stroke-width="1.5"/>
<rect x="63.7" y="311.3" width="7.76" height="11.1" fill="#faf4d6" stroke="#4a4a40" stroke-width="0.5"/>
<rect x="106.88" y="311.3" width="60.89" height="11.1" fill="#faf4d6" stroke="#4a4a40" stroke-width="0.5"/>
<rect x="211.94" y="311.3" width="8.35" height="11.1" fill="#faf4d6" stroke="#4a4a40" stroke-width="0.5"/>
<clipPath id="cD"><rect x="62.8" y="333.9" width="175.1" height="180.1"/></clipPath>
<g clip-path="url(#cD)">
<polygon fill="#cccccc" stroke="none" points="62.8,455 65,449.7 67,440 68.9,436 70.5,440 72.5,448 74.5,452 76.5,445 78.5,450 80.6,427.5 82.5,445 84.5,455 86,450 87.2,442 89.5,452 91.5,450 93.2,446 94.8,442 96.5,450 98.5,455 100.5,452 102,445 103.2,432.9 105.5,440 107,430 108.5,410 110,432 112,432 113.5,430 114.6,425.3 116.5,430 118,428 119.5,425 120.7,422.2 122.5,432 124.5,430 126,425 127.6,416.1 129,420 130.5,430 132.5,435 133.5,430 135.5,385 138.4,377.5 140,400 141,418 142.5,400 143.4,372.2 144.5,410 146,418 148.3,385 149.8,381.3 151.5,390 154.4,375.2 156.5,382 158.3,387.4 160,392 162,395 164,390 166,375 167.3,356.9 168.8,385 170.5,380 172.5,370 174.3,350.8 176,372 178,378 180.4,337 182,370 184.5,396 186.5,394 188.5,390 190.7,334 191.5,330 192.5,334 194,378 195.3,334 196.8,334 198,385 199.5,334 200.8,334 202,370 204,380 206,372 207.5,376 209,382 210.5,375 212,372 213.5,370 215,368 216.6,334 219.7,334 221,355 222.5,330 225.8,330 231.9,334 233.5,355 235,369 237,365 238,365 237.9,455 235.5,462 233.5,445 231.5,450 229.5,470 227.7,490 225,458 223,440 221,420 219.5,445 217.5,440 215.5,452 213.5,450 211.5,466 209,445 207,435 205,445 203.5,442 201.5,455 199.5,440 197.5,452 195,438 193,450 191.4,487 189.5,445 187.5,455 186,440 184,435 182,425 180.4,400 178,428 176,430 174,425 172,440 170.5,463 168,440 166.5,430 164.5,432 162.5,440 160.5,445 158.5,460 156.5,458 154.5,465 152.5,487 149.5,460 147.7,481 145,475 143,465 141.5,455 139.5,450 137.5,465 135.6,504 133.5,470 131.5,482 130.5,482 129.1,495.4 127.5,485 126,478 124,470 122,470 120,478.6 117.5,465 115,470 112.8,468 110.8,480 108.7,455 107.5,462 105.5,466 103.5,472 101.7,490.8 99,478 97,470 95,465 93,468 91,475 89,470 87,468 85,475 83,460 81,463 79,470 77,468 75,463 73,462 71,470 68.9,493.9 67,485 65,480 62.8,478"/>
<polyline fill="none" stroke="#000" stroke-width="2.9" stroke-linejoin="round" points="62.8,462 64.3,458.8 66,470 67.3,478.6 69,460 71.5,444.3 73,452.7 75,453.5 76.5,458 78,465.7 80,451.2 82.1,445.1 84.6,468.7 86.4,454.2 88.2,452.7 89.8,456 91.3,461.9 93.3,454.2 95.2,454.2 97,460 98.6,468 100.9,468 102.5,462 104,450.4 106,452 107.3,440 108.5,423 110.8,471 112.3,445.1 114.2,450 116.1,445.8 117.9,452 119.6,448.1 121.5,458.8 123.4,452 125.3,455 127.2,458 129.1,452.7 131,450 133,447 135,442 136.8,434.7 139.5,410.4 141.7,424.7 143.5,424 145.7,438.9 148.4,422.7 149.9,417.9 152.3,437.8 155.1,421 158.1,414.9 161.2,399.6 163.5,405 165,395 167.3,375.2 170.3,416.4 172.5,414 174.5,408 176.4,402.7 178.5,400 180.6,348 182.3,380 183.8,401.2 185.3,418 187.3,402.7 189.2,417.2 191.5,402.7 193.4,421 195.3,399.6 196.8,402 198,417.2 200.2,398.9 202.3,410 204.4,419.5 207.2,387.4 208.8,410 210.5,433 212.5,420 215,400 217.4,387.4 219,392 220.5,413.4 222,334 223.3,330 225,408.8 227,405 228.9,401.9 230.4,424 233.4,373.7 235.7,416.4 237.9,405"/>
<path fill="none" stroke="#0072bd" stroke-width="2.7" stroke-linejoin="round" d="M62.8,472.4C64,472.3 67.58,472.02 70,471.8C72.42,471.58 74.8,471.28 77.3,471.1C79.8,470.92 82.47,470.8 85,470.7C87.53,470.6 90,470.52 92.5,470.5C95,470.48 97.75,470.58 100,470.6C102.25,470.62 104.33,470.67 106,470.6C107.67,470.53 108.68,470.43 110,470.2C111.32,469.97 112.73,469.6 113.9,469.2C115.07,468.8 115.98,468.3 117,467.8C118.02,467.3 119,466.75 120,466.2C121,465.65 122,465.1 123,464.5C124,463.9 124.83,463.27 126,462.6C127.17,461.93 128.67,461.22 130,460.5C131.33,459.78 132.67,459.05 134,458.3C135.33,457.55 136.67,456.82 138,456C139.33,455.18 140.65,454.27 142,453.4C143.35,452.53 144.77,451.67 146.1,450.8C147.43,449.93 148.67,449.07 150,448.2C151.33,447.33 152.77,446.47 154.1,445.6C155.43,444.73 156.67,443.88 158,443C159.33,442.12 160.85,441.22 162.1,440.3C163.35,439.38 164.43,438.37 165.5,437.5C166.57,436.63 167.62,435.8 168.5,435.1C169.38,434.4 170.12,433.77 170.8,433.3C171.48,432.83 171.97,432.57 172.6,432.3C173.23,432.03 173.93,431.83 174.6,431.7C175.27,431.57 175.87,431.5 176.6,431.5C177.33,431.5 178.2,431.57 179,431.7C179.8,431.83 180.48,432.07 181.4,432.3C182.32,432.53 183.43,432.82 184.5,433.1C185.57,433.38 186.72,433.67 187.8,434C188.88,434.33 189.93,434.73 191,435.1C192.07,435.47 193.03,435.82 194.2,436.2C195.37,436.58 196.65,436.97 198,437.4C199.35,437.83 201.05,438.4 202.3,438.8C203.55,439.2 204.43,439.48 205.5,439.8C206.57,440.12 207.82,440.45 208.7,440.7C209.58,440.95 210.13,441.17 210.8,441.3C211.47,441.43 212.12,441.53 212.7,441.5C213.28,441.47 213.77,441.28 214.3,441.1C214.83,440.92 215.32,440.68 215.9,440.4C216.48,440.12 217.13,439.73 217.8,439.4C218.47,439.07 219.15,438.7 219.9,438.4C220.65,438.1 221.5,437.82 222.3,437.6C223.1,437.38 223.88,437.22 224.7,437.1C225.52,436.98 226.38,436.92 227.2,436.9C228.02,436.88 228.8,436.93 229.6,437C230.4,437.07 231.2,437.17 232,437.3C232.8,437.43 233.42,437.55 234.4,437.8C235.38,438.05 237.32,438.63 237.9,438.8"/>
</g>
<rect x="62.8" y="333.9" width="175.1" height="180.1" fill="none" stroke="#262626" stroke-width="1.3"/>
<path d="M62.8,514v-2.4M62.8,333.9v2.4M80.31,514v-1.6M80.31,333.9v1.6M97.82,514v-1.6M97.82,333.9v1.6M115.33,514v-1.6M115.33,333.9v1.6M132.84,514v-1.6M132.84,333.9v1.6M150.35,514v-2.4M150.35,333.9v2.4M167.86,514v-1.6M167.86,333.9v1.6M185.37,514v-1.6M185.37,333.9v1.6M202.88,514v-1.6M202.88,333.9v1.6M220.39,514v-1.6M220.39,333.9v1.6M237.9,514v-2.4M237.9,333.9v2.4M62.8,514h1.6M237.9,514h-1.6M62.8,507.07h1.6M237.9,507.07h-1.6M62.8,500.15h2.4M237.9,500.15h-2.4M62.8,493.22h1.6M237.9,493.22h-1.6M62.8,486.29h1.6M237.9,486.29h-1.6M62.8,479.37h1.6M237.9,479.37h-1.6M62.8,472.44h2.4M237.9,472.44h-2.4M62.8,465.51h1.6M237.9,465.51h-1.6M62.8,458.58h1.6M237.9,458.58h-1.6M62.8,451.66h1.6M237.9,451.66h-1.6M62.8,444.73h2.4M237.9,444.73h-2.4M62.8,437.8h1.6M237.9,437.8h-1.6M62.8,430.88h1.6M237.9,430.88h-1.6M62.8,423.95h1.6M237.9,423.95h-1.6M62.8,417.02h2.4M237.9,417.02h-2.4M62.8,410.1h1.6M237.9,410.1h-1.6M62.8,403.17h1.6M237.9,403.17h-1.6M62.8,396.24h1.6M237.9,396.24h-1.6M62.8,389.32h2.4M237.9,389.32h-2.4M62.8,382.39h1.6M237.9,382.39h-1.6M62.8,375.46h1.6M237.9,375.46h-1.6M62.8,368.53h1.6M237.9,368.53h-1.6M62.8,361.61h2.4M237.9,361.61h-2.4M62.8,354.68h1.6M237.9,354.68h-1.6M62.8,347.75h1.6M237.9,347.75h-1.6M62.8,340.83h1.6M237.9,340.83h-1.6M62.8,333.9h2.4M237.9,333.9h-2.4" stroke="#262626" stroke-width="1.2" fill="none"/>
<text x="56.5" y="506.85" text-anchor="end" class="tk">-0.2</text>
<text x="56.5" y="479.14" text-anchor="end" class="tk">0</text>
<text x="56.5" y="451.43" text-anchor="end" class="tk">0.2</text>
<text x="56.5" y="423.72" text-anchor="end" class="tk">0.4</text>
<text x="56.5" y="396.02" text-anchor="end" class="tk">0.6</text>
<text x="56.5" y="368.31" text-anchor="end" class="tk">0.8</text>
<text x="62.8" y="535.9" text-anchor="middle" class="tk">0</text>
<text x="150.35" y="535.9" text-anchor="middle" class="tk">10</text>
<text x="237.9" y="535.9" text-anchor="middle" class="tk">20</text>
<text x="150.35" y="556.8" text-anchor="middle" class="lb">Time (min)</text>
<text x="72" y="361.2" class="pl">D</text>
<rect x="282" y="310.4" width="175.7" height="12.9" fill="#000" stroke="#262626" stroke-width="1.5"/>
<rect x="282.9" y="311.3" width="86.85" height="11.1" fill="#faf4d6" stroke="#4a4a40" stroke-width="0.5"/>
<clipPath id="cE"><rect x="282" y="333.9" width="175.7" height="180.1"/></clipPath>
<g clip-path="url(#cE)">
<polygon fill="#cccccc" stroke="none" points="282,455 284,448 286,452 288.1,440.1 290,452 292,448 294.5,447 297,445 299.5,444 301.5,438 303.5,440 305.5,437 307.5,432 309.5,435 311.5,430 313,415 314.5,402.5 316.5,410 318,418 320,425 322,415 323.5,422 325.5,418 327,405 328.8,390.3 330.5,405 332,390 333.4,379.1 335,395 336.8,402 338.5,400 340,415 342,410 344,395 346,382 348,372 350.7,355.4 351.5,353.8 353.7,366 355.3,350.8 357.5,358 358.5,350 360.6,343.2 362.9,364.5 364.5,342 366.7,338.6 368.5,330 375.5,330 376.6,360 377.8,330 387.5,330 388.9,361.5 390.5,330 396,330 397.3,360 398.5,353.8 400,340 401,330 404,330 405.5,350 407.2,373.7 408.5,350 409.5,330 411,330 412,345 413.3,356.9 414.5,345 415.6,330 417,330 418,345 419.5,370 421.7,392 424.7,373.7 426.5,385 430,399.6 433.9,356.9 435.5,364.5 437.7,343.2 440.7,379.8 443.8,338.6 446,364.5 448.4,382.9 451.4,398.1 453.7,350.8 455.3,372 457.7,345 457.7,446 455.5,470 453.5,488 451.1,490.6 448.5,447.6 446.5,462 444.5,478 442.5,473.4 440,476 437.5,478 435.6,487.2 433.5,470 431.3,450.1 428.5,465 426.5,475 424.4,494 422.5,485 420.5,478 418.4,470 415.5,475 413.5,478 411.5,485 408.9,495.8 406.3,470 404.5,478 402.5,485 400.3,497.5 397.5,492 395.5,490 393.5,495 391.7,511.3 389,472 386.5,482 384.5,476 382.5,472 380,475 377.9,471.7 374.5,483 371.9,485.5 369.5,448 367.5,452 365.8,444.1 363.5,450 361.5,458 359,456.2 357,458 355.5,462 353.8,471.7 351,455 349,445 346.9,442.4 344.5,445 342.5,455 340.5,470 339,462 337,455 335,462 333,450 331,460 329,452 327,458 325,455 323,462 321,466 318.5,460 316.5,458 314.5,468 312.5,485.9 310.5,466 308,462 305.5,470 303.5,465 301.5,470 299.3,474.7 296.5,476 294,474 292,477 290,478 288,470 285.5,488 284,476 282,478"/>
<polyline fill="none" stroke="#000" stroke-width="2.9" stroke-linejoin="round" points="282,465.5 283.4,462.5 285.5,479.8 288.1,456.4 290.1,464.5 291.7,463 293.2,463.5 294.7,460 296.2,461.5 297.8,458 299.3,460.4 301.4,455 303.4,448.3 305.8,453.3 308.4,446.2 310.5,450.3 312.5,444.2 314.5,451.3 317.2,431 319.5,442 321.7,450.3 324.5,440 326.5,428 328.2,418.8 330.2,438.1 332.8,414.7 334.8,422 336.9,411.7 339.5,428 342,437.1 343.8,418.7 346.1,415.7 349.9,395.1 352.2,410 354.5,419.5 356.8,405.8 359,410 361.4,398.1 363,402 364.7,405.8 367.2,395.1 368.7,402 370.2,390.5 372.4,406.5 374.4,389.7 376.6,421 378.9,399.6 381.2,404.2 383.5,406 385.8,411.9 388.9,417.2 391.9,382.9 394.2,405 396.5,422.5 398,418 400.3,410 402.6,402.7 406.4,419.5 409.5,403.5 412.5,419.5 416,401.9 419.4,416.4 421.2,430 422.9,436.2 425,428 427.5,424 429.5,422 431.6,419.5 434.8,416 438,408.8 440.7,422.5 443.8,408.8 446.5,422.5 449.1,411.9 451.4,426 453.7,418 455.8,432 457.7,425"/>
<path fill="none" stroke="#0072bd" stroke-width="2.7" stroke-linejoin="round" d="M282,471.6C283.53,471.5 287.98,471.6 291.2,471C294.42,470.4 297.92,469.25 301.3,468C304.68,466.75 308.1,465.27 311.5,463.5C314.9,461.73 318.32,459.53 321.7,457.4C325.08,455.27 328.75,452.77 331.8,450.7C334.85,448.63 336.92,447.25 340,445C343.08,442.75 346.85,439.78 350.3,437.2C353.75,434.62 358.08,431.5 360.7,429.5C363.32,427.5 364.28,426.58 366,425.2C367.72,423.82 369.67,422.08 371,421.2C372.33,420.32 373,420.13 374,419.9C375,419.67 375.92,419.7 377,419.8C378.08,419.9 379.2,420.18 380.5,420.5C381.8,420.82 382.37,420.92 384.8,421.7C387.23,422.48 391.08,423.77 395.1,425.2C399.12,426.63 404.3,428.53 408.9,430.3C413.5,432.07 418.1,434.07 422.7,435.8C427.3,437.53 431.9,439.17 436.5,440.7C441.1,442.23 446.77,443.97 450.3,445C453.83,446.03 456.47,446.58 457.7,446.9"/>
</g>
<rect x="282" y="333.9" width="175.7" height="180.1" fill="none" stroke="#262626" stroke-width="1.3"/>
<path d="M282,514v-2.4M282,333.9v2.4M299.57,514v-1.6M299.57,333.9v1.6M317.14,514v-1.6M317.14,333.9v1.6M334.71,514v-1.6M334.71,333.9v1.6M352.28,514v-1.6M352.28,333.9v1.6M369.85,514v-2.4M369.85,333.9v2.4M387.42,514v-1.6M387.42,333.9v1.6M404.99,514v-1.6M404.99,333.9v1.6M422.56,514v-1.6M422.56,333.9v1.6M440.13,514v-1.6M440.13,333.9v1.6M457.7,514v-2.4M457.7,333.9v2.4M282,514h1.6M457.7,514h-1.6M282,507.07h1.6M457.7,507.07h-1.6M282,500.15h2.4M457.7,500.15h-2.4M282,493.22h1.6M457.7,493.22h-1.6M282,486.29h1.6M457.7,486.29h-1.6M282,479.37h1.6M457.7,479.37h-1.6M282,472.44h2.4M457.7,472.44h-2.4M282,465.51h1.6M457.7,465.51h-1.6M282,458.58h1.6M457.7,458.58h-1.6M282,451.66h1.6M457.7,451.66h-1.6M282,444.73h2.4M457.7,444.73h-2.4M282,437.8h1.6M457.7,437.8h-1.6M282,430.88h1.6M457.7,430.88h-1.6M282,423.95h1.6M457.7,423.95h-1.6M282,417.02h2.4M457.7,417.02h-2.4M282,410.1h1.6M457.7,410.1h-1.6M282,403.17h1.6M457.7,403.17h-1.6M282,396.24h1.6M457.7,396.24h-1.6M282,389.32h2.4M457.7,389.32h-2.4M282,382.39h1.6M457.7,382.39h-1.6M282,375.46h1.6M457.7,375.46h-1.6M282,368.53h1.6M457.7,368.53h-1.6M282,361.61h2.4M457.7,361.61h-2.4M282,354.68h1.6M457.7,354.68h-1.6M282,347.75h1.6M457.7,347.75h-1.6M282,340.83h1.6M457.7,340.83h-1.6M282,333.9h2.4M457.7,333.9h-2.4" stroke="#262626" stroke-width="1.2" fill="none"/>
<text x="275.7" y="506.85" text-anchor="end" class="tk">-0.2</text>
<text x="275.7" y="479.14" text-anchor="end" class="tk">0</text>
<text x="275.7" y="451.43" text-anchor="end" class="tk">0.2</text>
<text x="275.7" y="423.72" text-anchor="end" class="tk">0.4</text>
<text x="275.7" y="396.02" text-anchor="end" class="tk">0.6</text>
<text x="275.7" y="368.31" text-anchor="end" class="tk">0.8</text>
<text x="282" y="535.9" text-anchor="middle" class="tk">0</text>
<text x="369.85" y="535.9" text-anchor="middle" class="tk">10</text>
<text x="457.7" y="535.9" text-anchor="middle" class="tk">20</text>
<text x="369.85" y="556.8" text-anchor="middle" class="lb">Time (min)</text>
<text x="291.2" y="361.2" class="pl">E</text>
<rect x="501.4" y="310.4" width="175.5" height="12.9" fill="#000" stroke="#262626" stroke-width="1.5"/>
<rect x="502.3" y="311.3" width="16.55" height="11.1" fill="#faf4d6" stroke="#4a4a40" stroke-width="0.5"/>
<rect x="536.8" y="311.3" width="17.15" height="11.1" fill="#faf4d6" stroke="#4a4a40" stroke-width="0.5"/>
<rect x="571.9" y="311.3" width="17.15" height="11.1" fill="#faf4d6" stroke="#4a4a40" stroke-width="0.5"/>
<rect x="607" y="311.3" width="17.15" height="11.1" fill="#faf4d6" stroke="#4a4a40" stroke-width="0.5"/>
<rect x="642.1" y="311.3" width="17.15" height="11.1" fill="#faf4d6" stroke="#4a4a40" stroke-width="0.5"/>
<clipPath id="cF"><rect x="497.4" y="332" width="179.6" height="182"/></clipPath>
<g clip-path="url(#cF)">
<polygon fill="#cccccc" stroke="none" points="497.4,452 499.5,452 501.5,448 503.8,445.8 506,450 508.5,450 511,448 513,448 515,452 517.7,429.7 520,442 522,447 524,450 526.7,432.2 528.8,447 530.5,450 532.6,441.5 535,448 537.5,443 540.2,422 542.5,434 544.5,430 546.5,436 548.5,432 551,435 553.5,428 555.5,405.1 557.5,430 560,420 562.3,410.2 564.5,438 566.8,442 569,432 571,428 573.3,422 576.5,424 580,422 583.4,408.5 585.5,400 587.4,381.8 589.5,395 592,410 594.5,418 597,425 599.5,422 601.5,400 603.5,405 606,420 608.5,410 610.5,396 613,405 615.5,400 618,405 620,400 622.5,392 625,385 627.7,334.4 630,388 632.5,405 635,410 637.5,402 640,400 642,395 644.3,381.8 646.5,398 648.5,390 651,388 653.5,398 655.5,375 657.3,362.8 659.5,357 662,355 664.4,351 666.5,353 669,365 671.5,375 674,382 677,380 677,422 674,420 671,418 668.5,410 666,402 663,405 660.5,410 658,418 655,425 652.5,436 650,430 647.8,443.5 645.5,428 643,434 640,436 637.5,438 635,438 632,445 629.5,438 627.2,428 624,442 621.5,445 618.5,452 615.5,448 613,455 610.5,448 608.5,455 606.3,469.5 602.8,440 600.5,455 598,464.8 595,455 592,462 589,452 586.5,448 584,450 581.5,455 579,458 576.5,462 574,465 571.5,468 569,479.7 567,475 564.5,468 562.5,458 560.5,462 558,465 556,455 553.5,460 551,462 549,463 546.5,468 544.5,460 542.5,468 540,465 537.5,470 535.5,478 533.4,489.8 530,482 528,475 526,475 524.1,488 522,480 520,472 517.5,470 515,480 513,475 511,473 508.5,476 506,478 503.8,472 501.5,478 499.5,486 497.4,480"/>
<polyline fill="none" stroke="#000" stroke-width="2.9" stroke-linejoin="round" points="497.4,466 499.5,469.5 501.5,462 503.8,459.3 506.3,462 508.9,463.6 511,462 513.1,461 514.8,467 517,451.7 519,453 520.7,451.7 522.3,458 524.1,472.9 525.7,458 527.2,453.4 528.9,465.3 530.9,468.6 533.5,465 536,461 538.5,457.6 540.2,450.8 542.2,451 544.1,443.2 546.2,451.7 548.3,450 550.4,445.8 552.3,447 554,444 556,436.4 558,447.5 560.2,447 562.3,440.7 564.5,452 566.8,460.2 569,454.2 571.5,451 574.1,448.3 576.5,446 578.3,445 580,444.1 582.1,435.6 584.3,431 586.5,425.4 589.3,420.9 592.1,438.7 595,441.1 598,448.2 600.5,446 602.8,422.1 605.9,457.7 607.5,452 609.9,425.7 613,436.3 615.8,426.9 618.8,433 621.8,426.9 624.5,424 627.2,380.6 629.8,404 632.4,426.9 634.8,420.9 637.4,424 640,417.4 643.1,419.7 645.5,406.7 647.8,417.4 651.4,404.3 654.2,422.1 657.5,398 660.9,375.9 663.5,385 666.1,364 669.2,385 672.3,400.8 675.1,397.2 677,404"/>
<path fill="none" stroke="#0072bd" stroke-width="2.7" stroke-linejoin="round" d="M497.4,472C498.17,471.92 500.37,471.7 502,471.5C503.63,471.3 505.53,471.08 507.2,470.8C508.87,470.52 510.32,470.17 512,469.8C513.68,469.43 515.63,468.95 517.3,468.6C518.97,468.25 520.3,467.98 522,467.7C523.7,467.42 525.75,467.22 527.5,466.9C529.25,466.58 530.8,466.22 532.5,465.8C534.2,465.38 536.03,464.95 537.7,464.4C539.37,463.85 540.82,463.2 542.5,462.5C544.18,461.8 546.22,460.87 547.8,460.2C549.38,459.53 550.58,458.98 552,458.5C553.42,458.02 554.88,457.62 556.3,457.3C557.72,456.98 559.08,456.77 560.5,456.6C561.92,456.43 563.47,456.43 564.8,456.3C566.13,456.17 567.37,456 568.5,455.8C569.63,455.6 570.52,455.4 571.6,455.1C572.68,454.8 573.87,454.43 575,454C576.13,453.57 577.15,453.08 578.4,452.5C579.65,451.92 581.07,451.22 582.5,450.5C583.93,449.78 585.5,448.9 587,448.2C588.5,447.5 589.85,446.87 591.5,446.3C593.15,445.73 595.23,445.05 596.9,444.8C598.57,444.55 599.93,444.73 601.5,444.8C603.07,444.87 604.72,445.37 606.3,445.2C607.88,445.03 609.42,444.48 611,443.8C612.58,443.12 614.22,442.03 615.8,441.1C617.38,440.17 618.92,439.07 620.5,438.2C622.08,437.33 623.72,436.48 625.3,435.9C626.88,435.32 628.42,434.95 630,434.7C631.58,434.45 633.22,434.35 634.8,434.4C636.38,434.45 637.92,434.77 639.5,435C641.08,435.23 642.72,435.92 644.3,435.8C645.88,435.68 647.42,435 649,434.3C650.58,433.6 652.22,432.48 653.8,431.6C655.38,430.72 656.92,429.78 658.5,429C660.08,428.22 661.88,427.43 663.3,426.9C664.72,426.37 665.82,426.02 667,425.8C668.18,425.58 669.32,425.55 670.4,425.6C671.48,425.65 672.4,425.82 673.5,426.1C674.6,426.38 676.42,427.1 677,427.3"/>
</g>
<rect x="497.4" y="332" width="179.6" height="182" fill="none" stroke="#262626" stroke-width="1.3"/>
<path d="M497.4,514v-2.4M497.4,332v2.4M515.36,514v-1.6M515.36,332v1.6M533.32,514v-1.6M533.32,332v1.6M551.28,514v-1.6M551.28,332v1.6M569.24,514v-1.6M569.24,332v1.6M587.2,514v-2.4M587.2,332v2.4M605.16,514v-1.6M605.16,332v1.6M623.12,514v-1.6M623.12,332v1.6M641.08,514v-1.6M641.08,332v1.6M659.04,514v-1.6M659.04,332v1.6M677,514v-2.4M677,332v2.4M497.4,514h1.6M677,514h-1.6M497.4,507h1.6M677,507h-1.6M497.4,500h2.4M677,500h-2.4M497.4,493h1.6M677,493h-1.6M497.4,486h1.6M677,486h-1.6M497.4,479h1.6M677,479h-1.6M497.4,472h2.4M677,472h-2.4M497.4,465h1.6M677,465h-1.6M497.4,458h1.6M677,458h-1.6M497.4,451h1.6M677,451h-1.6M497.4,444h2.4M677,444h-2.4M497.4,437h1.6M677,437h-1.6M497.4,430h1.6M677,430h-1.6M497.4,423h1.6M677,423h-1.6M497.4,416h2.4M677,416h-2.4M497.4,409h1.6M677,409h-1.6M497.4,402h1.6M677,402h-1.6M497.4,395h1.6M677,395h-1.6M497.4,388h2.4M677,388h-2.4M497.4,381h1.6M677,381h-1.6M497.4,374h1.6M677,374h-1.6M497.4,367h1.6M677,367h-1.6M497.4,360h2.4M677,360h-2.4M497.4,353h1.6M677,353h-1.6M497.4,346h1.6M677,346h-1.6M497.4,339h1.6M677,339h-1.6M497.4,332h2.4M677,332h-2.4" stroke="#262626" stroke-width="1.2" fill="none"/>
<text x="491.1" y="506.7" text-anchor="end" class="tk">-0.2</text>
<text x="491.1" y="478.7" text-anchor="end" class="tk">0</text>
<text x="491.1" y="450.7" text-anchor="end" class="tk">0.2</text>
<text x="491.1" y="422.7" text-anchor="end" class="tk">0.4</text>
<text x="491.1" y="394.7" text-anchor="end" class="tk">0.6</text>
<text x="491.1" y="366.7" text-anchor="end" class="tk">0.8</text>
<text x="497.4" y="535.9" text-anchor="middle" class="tk">0</text>
<text x="587.2" y="535.9" text-anchor="middle" class="tk">10</text>
<text x="677" y="535.9" text-anchor="middle" class="tk">20</text>
<text x="587.2" y="556.8" text-anchor="middle" class="lb">Time (min)</text>
<text x="506.6" y="359.9" class="pl">F</text>
<text x="369.3" y="11.9" text-anchor="middle" class="ti">vde mutant</text>
<text x="369.3" y="304.4" text-anchor="middle" class="ti">lhcx1 mutant</text>
<text transform="rotate(-90)" x="-149.8" y="11.8" class="lb">NPQ<tspan class="sub" dx="1" dy="8">&#964;</tspan></text>
<text transform="rotate(-90)" x="-444.8" y="11.8" class="lb">NPQ<tspan class="sub" dx="1" dy="8">&#964;</tspan></text>
<line x1="253.4" y1="580.8" x2="293.2" y2="580.8" stroke="#000" stroke-width="2.4"/>
<text x="298.8" y="586.8" class="lg">Experiment</text>
<line x1="390.1" y1="580.8" x2="431" y2="580.8" stroke="#0072bd" stroke-width="2.4"/>
<text x="435.6" y="586.8" class="lg">Model</text>
</svg>
</body></html>
